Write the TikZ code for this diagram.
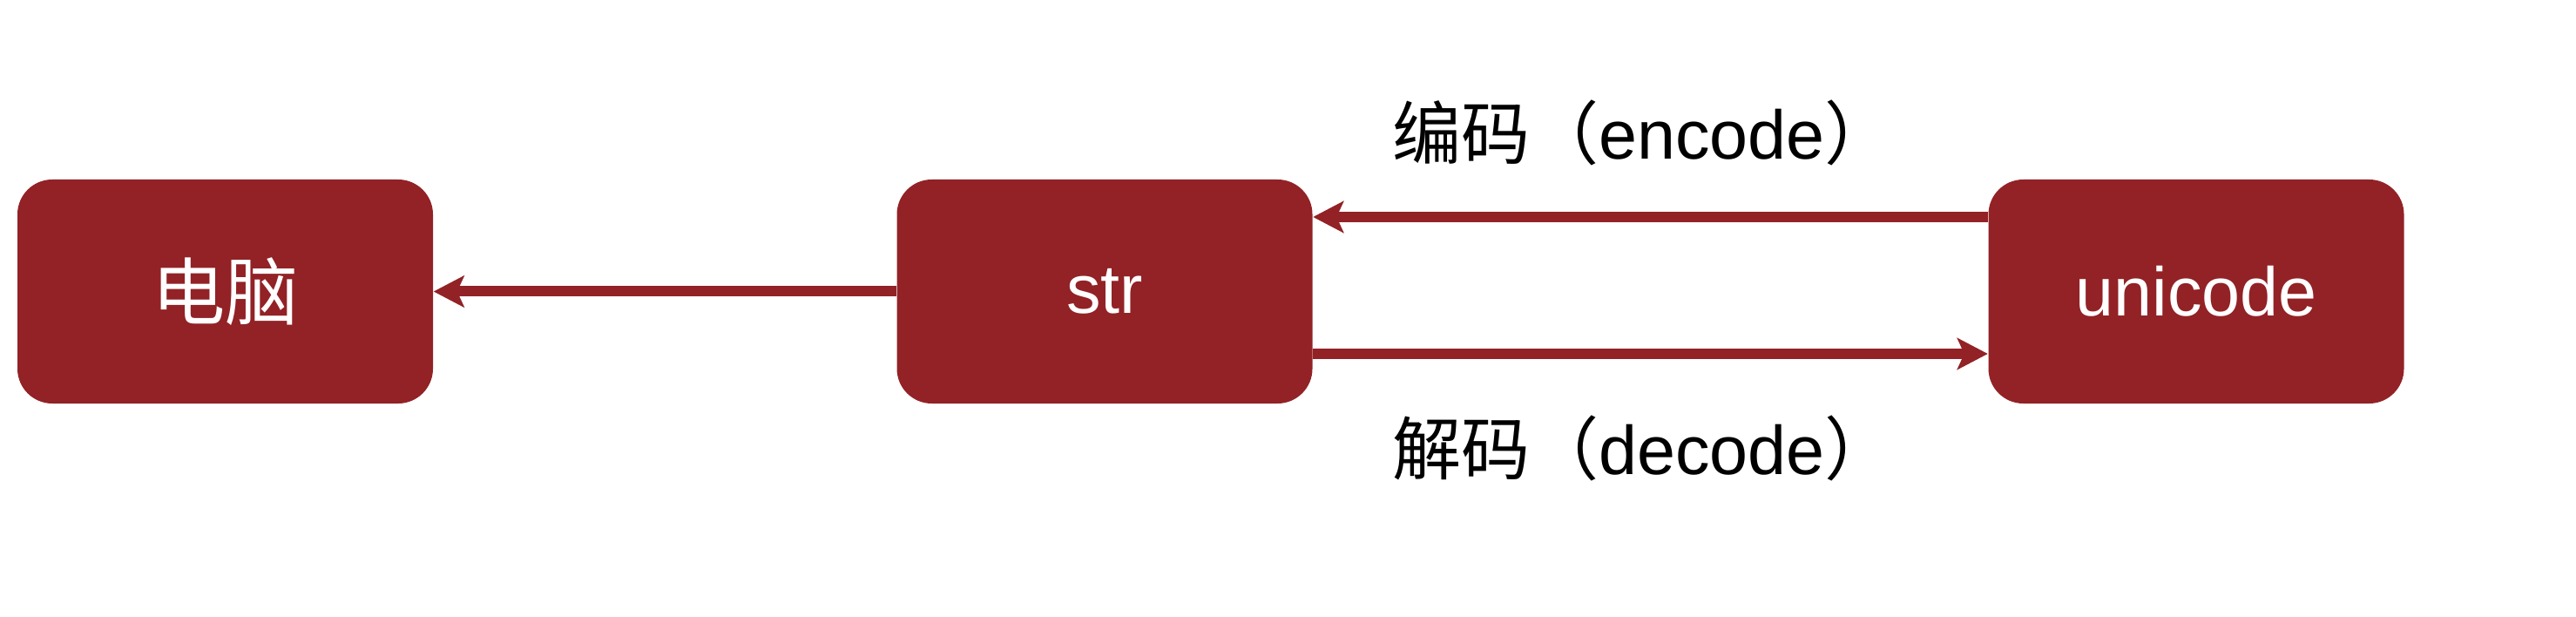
\documentclass[tikz,border=0pt]{standalone}
\usepackage{fontspec}
\setmainfont{Liberation Sans}
\newfontfamily\cjk{Noto Sans CJK SC}
\usetikzlibrary{arrows.meta}
\definecolor{boxred}{RGB}{146,34,38}

\begin{document}
\begin{tikzpicture}[
  box/.style={fill=boxred, rounded corners=0.4cm, minimum width=4.77cm, minimum height=2.57cm, text=white, font=\fontsize{22.5}{27}\selectfont},
  link/.style={-{Stealth[length=3.5mm, width=3.6mm, inset=0.8mm]}, line width=0.12cm, draw=boxred},
  lbl/.style={font=\fontsize{22.5}{27}\selectfont}
]
\useasboundingbox (0,0) rectangle (29.57,7.07);
% boxes
\node[box] (pc) at (2.585,3.725) {\cjk\fontsize{24}{28}\selectfont 电脑};
\node[box] (str) at (12.68,3.725) {str};
\node[box] (uni) at (25.21,3.725) {unicode};
% arrows
\draw[link] (str) -- (pc);
\draw[link] ([yshift=0.855cm]uni.west) -- ([yshift=0.855cm]str.east);
\draw[link] ([yshift=-0.715cm]str.east) -- ([yshift=-0.715cm]uni.west);
% labels
\node[lbl] (enc) at (18.86,5.55) {{\cjk 编码（}encode{\cjk ）}};
\node[lbl] (dec) at (18.86,1.93) {{\cjk 解码（}decode{\cjk ）}};
\end{tikzpicture}
\end{document}
